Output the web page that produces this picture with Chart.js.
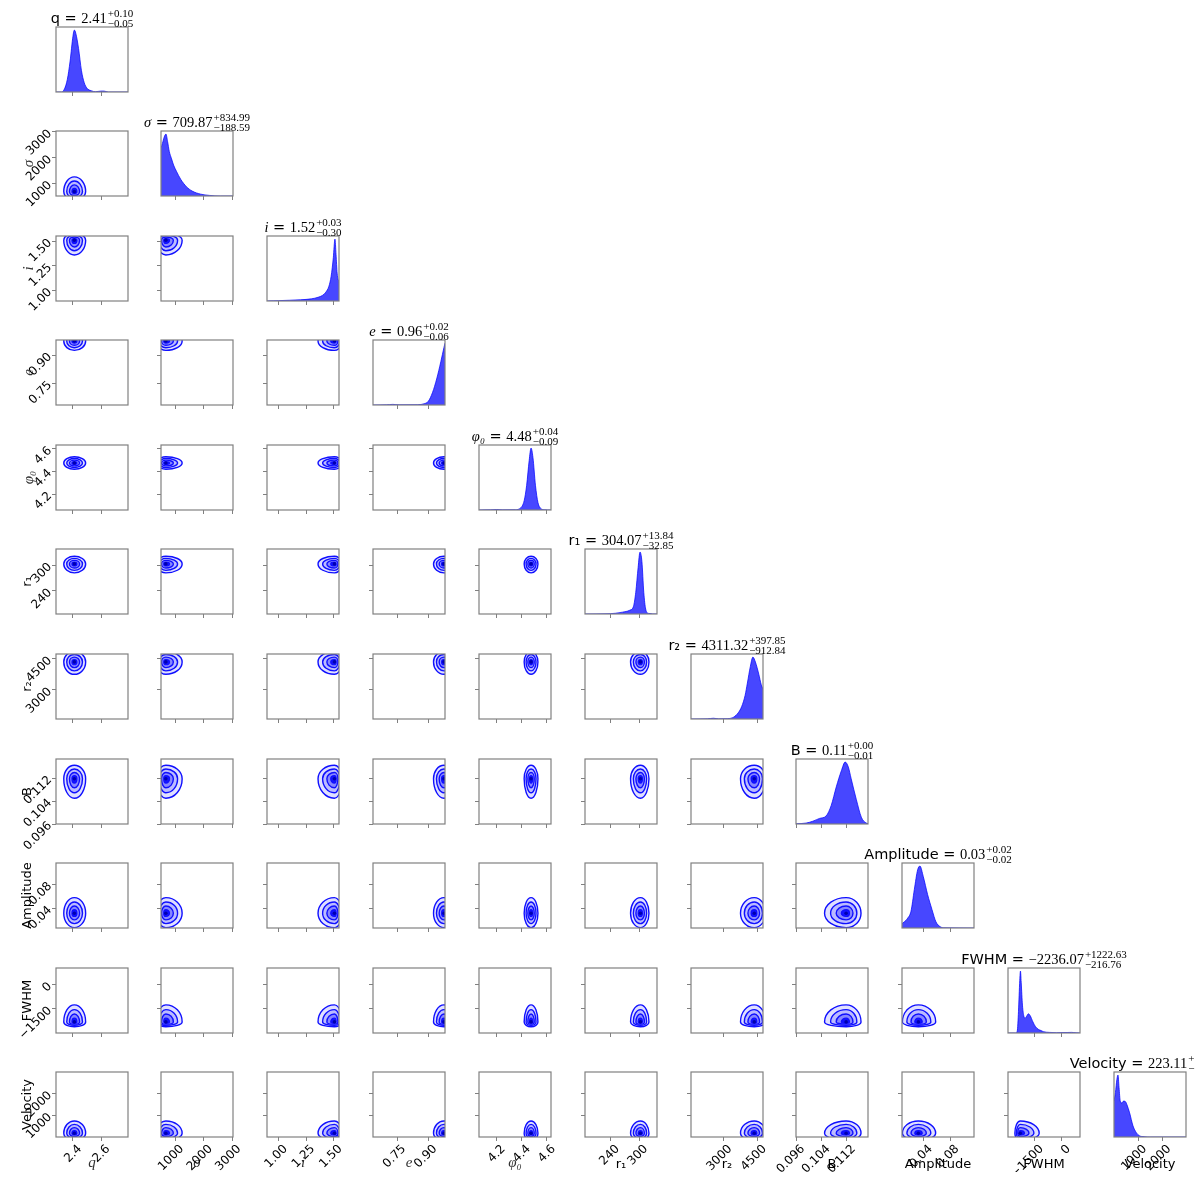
<!DOCTYPE html>
<html>
<head>
<meta charset="utf-8">
<title>Corner plot</title>
<script src="https://cdn.jsdelivr.net/npm/chart.js@4.4.0/dist/chart.umd.min.js"></script>
<style>
html, body { margin: 0; padding: 0; background: #fff; }
#grid { position: relative; width: 1200px; height: 1178px; overflow: hidden; }
#grid canvas { position: absolute; }
</style>
</head>
<body>
<div id="grid"></div>
<script>
// ---------- Parameters ----------
const paramNames = ['q', 'σ', 'i', 'e', 'φ₀', 'r₁', 'r₂', 'B', 'Amplitude', 'FWHM', 'Velocity'];
const titleIsMath = [false, true, true, true, true, false, false, false, false, false, false];
const labelIsMath = [true, true, true, true, true, false, false, false, false, false, false];
const medians = ['2.41', '709.87', '1.52', '0.96', '4.48', '304.07', '4311.32', '0.11', '0.03', '−2236.07', '223.11'];
const upperErr = ['+0.10', '+834.99', '+0.03', '+0.02', '+0.04', '+13.84', '+397.85', '+0.00', '+0.02', '+1222.63', '+'];
const lowerErr = ['−0.05', '−188.59', '−0.30', '−0.06', '−0.09', '−32.85', '−912.84', '−0.01', '−0.02', '−216.76', '−'];

// axis ranges
const paramMin = [2.28, 510, 0.893, 0.635, 4.06, 185.5, 1592, 0.096, 0.0074, -2983, 0];
const paramMax = [2.79, 3030, 1.552, 0.98, 4.634, 338, 4731, 0.1187, 0.1156, 1017, 2996];

// ticks
const tickValues = [
  [2.4, 2.6], [1000, 2000, 3000], [1.0, 1.25, 1.5], [0.75, 0.9], [4.2, 4.4, 4.6],
  [240, 300], [3000, 4500], [0.096, 0.104, 0.112], [0.04, 0.08], [-1500, 0], [1000, 2000]
];
const tickLabels = [
  ['2.4', '2.6'], ['1000', '2000', '3000'], ['1.00', '1.25', '1.50'], ['0.75', '0.90'], ['4.2', '4.4', '4.6'],
  ['240', '300'], ['3000', '4500'], ['0.096', '0.104', '0.112'], ['0.04', '0.08'], ['−1500', '0'], ['1000', '2000']
];

// ---------- Marginal densities (peak = 1) ----------
const qGrid = [2.28, 2.32, 2.34, 2.36, 2.38, 2.40, 2.41, 2.42, 2.44, 2.46, 2.48, 2.50, 2.53, 2.56, 2.60, 2.62, 2.65, 2.79];
const qDens = [0, 0, 0.05, 0.2, 0.5, 0.9, 1.0, 0.95, 0.7, 0.35, 0.15, 0.06, 0.02, 0.005, 0.015, 0.015, 0, 0];
const sigmaGrid = [510, 560, 620, 685, 740, 800, 880, 950, 1050, 1200, 1400, 1600, 1900, 2200, 2600, 3030];
const sigmaDens = [0.78, 0.85, 0.95, 1.0, 0.88, 0.72, 0.6, 0.5, 0.4, 0.27, 0.15, 0.08, 0.03, 0.01, 0, 0];
const iGrid = [0.893, 0.95, 1.0, 1.1, 1.2, 1.3, 1.36, 1.40, 1.43, 1.46, 1.48, 1.50, 1.515, 1.525, 1.535, 1.552];
const iDens = [0, 0.003, 0.006, 0.012, 0.02, 0.035, 0.06, 0.09, 0.14, 0.24, 0.4, 0.7, 1.0, 0.75, 0.45, 0.3];
const eGrid = [0.635, 0.70, 0.73, 0.76, 0.85, 0.88, 0.90, 0.92, 0.94, 0.96, 0.975, 0.98];
const eDens = [0, 0.003, 0.01, 0.003, 0.005, 0.02, 0.06, 0.2, 0.42, 0.7, 0.93, 1.0];
const phiGrid = [4.06, 4.15, 4.20, 4.25, 4.35, 4.39, 4.42, 4.44, 4.46, 4.475, 4.49, 4.51, 4.53, 4.55, 4.58, 4.634];
const phiDens = [0, 0.003, 0.008, 0.003, 0.005, 0.03, 0.15, 0.4, 0.8, 1.0, 0.85, 0.4, 0.12, 0.03, 0.005, 0];
const r1Grid = [185.5, 230, 250, 265, 280, 288, 293, 298, 302, 306, 310, 314, 320, 338];
const r1Dens = [0, 0.003, 0.012, 0.03, 0.06, 0.12, 0.35, 0.75, 1.0, 0.85, 0.35, 0.08, 0.01, 0];
const r2Grid = [1592, 2300, 2570, 2800, 3200, 3450, 3650, 3800, 3950, 4050, 4180, 4290, 4400, 4550, 4650, 4731];
const r2Dens = [0, 0.003, 0.012, 0.003, 0.006, 0.03, 0.1, 0.2, 0.38, 0.58, 0.85, 1.0, 0.92, 0.72, 0.56, 0.48];
const bGrid = [0.096, 0.0992, 0.1013, 0.1034, 0.1055, 0.1071, 0.1087, 0.1103, 0.1115, 0.1125, 0.1134, 0.115, 0.1166, 0.118, 0.1187];
const bDens = [0.003, 0.015, 0.045, 0.09, 0.13, 0.3, 0.6, 0.86, 1.0, 0.92, 0.73, 0.4, 0.11, 0.02, 0.005];
const ampGrid = [0.0074, 0.0109, 0.016, 0.0209, 0.0259, 0.0309, 0.0344, 0.0394, 0.0459, 0.0524, 0.0584, 0.065, 0.072, 0.1156];
const ampDens = [0.07, 0.1, 0.16, 0.27, 0.62, 0.94, 1.0, 0.83, 0.54, 0.3, 0.1, 0.02, 0.003, 0];
const fwhmGrid = [-2983, -2550, -2470, -2400, -2330, -2290, -2250, -2180, -2100, -2030, -1950, -1850, -1750, -1600, -1450, -1300, -1150, -1000, -700, -300, 300, 550, 800, 1017];
const fwhmDens = [0, 0, 0.03, 0.35, 0.85, 1.0, 0.82, 0.45, 0.27, 0.24, 0.27, 0.31, 0.28, 0.18, 0.1, 0.06, 0.04, 0.02, 0.01, 0.005, 0.008, 0.01, 0.003, 0];
const velGrid = [0, 60, 120, 166, 210, 260, 320, 400, 480, 540, 650, 790, 930, 1060, 1250, 1500, 2996];
const velDens = [0.58, 0.72, 0.93, 1.0, 0.8, 0.58, 0.55, 0.58, 0.57, 0.52, 0.39, 0.18, 0.07, 0.02, 0.005, 0, 0];

const marginalGrid = [qGrid, sigmaGrid, iGrid, eGrid, phiGrid, r1Grid, r2Grid, bGrid, ampGrid, fwhmGrid, velGrid];
const marginalDens = [qDens, sigmaDens, iDens, eDens, phiDens, r1Dens, r2Dens, bDens, ampDens, fwhmDens, velDens];

// ---------- 2D contours: mode and extent of the outer contour ----------
const contourMode = [2.41, 680, 1.51, 0.975, 4.475, 303, 4350, 0.1118, 0.032, -2300, 170];
const contourLow = [2.335, 350, 1.36, 0.925, 4.42, 282, 3750, 0.105, 0.008, -2600, -150];
const contourHigh = [2.49, 1250, 1.58, 1.02, 4.53, 321, 4850, 0.1165, 0.058, -1250, 740];
const contourLevels = [1, 0.72, 0.46, 0.22];
const contourFill = ['rgba(0,0,255,0.12)', 'rgba(0,0,255,0.17)', 'rgba(0,0,255,0.28)', 'rgba(0,0,255,0.85)'];

// ---------- Styling ----------
const blue = 'rgba(0,0,255,0.72)';
const lineBlue = 'rgb(15,15,255)';
const frameColor = '#808080';
const serif = '"Liberation Serif", "DejaVu Serif", serif';
const sans = '"DejaVu Sans", sans-serif';
// the last title runs off the page; its hidden error text is about this wide
const clippedErrWidth = 42;

Chart.defaults.font.family = sans;
Chart.defaults.color = '#000';

// panel geometry
const PAD_L = 60, PAD_T = 30, PAD_R = 110, PAD_B = 10;
const PW = 72, PH = 65, XAXIS_H = 35, YAXIS_W = 36;

function panelLeft(c) { return Math.round(55.5 + 105.85 * c); }
function panelTop(r) { return Math.round(26.7 + 104.55 * r); }

// ---------- Plugins ----------
function contourPlugin(px, py) {
  return {
    id: 'contours',
    beforeDatasetsDraw(chart) {
      const {ctx, chartArea: a, scales: {x, y}} = chart;
      ctx.save();
      ctx.beginPath();
      ctx.rect(a.left, a.top, a.right - a.left, a.bottom - a.top);
      ctx.clip();
      const mx = contourMode[px], my = contourMode[py];
      const cx = x.getPixelForValue(mx), cy = y.getPixelForValue(my);
      contourLevels.forEach((s, k) => {
        const rxL = cx - x.getPixelForValue(mx - s * (mx - contourLow[px]));
        const rxR = x.getPixelForValue(mx + s * (contourHigh[px] - mx)) - cx;
        const ryB = y.getPixelForValue(my - s * (my - contourLow[py])) - cy;
        const ryT = cy - y.getPixelForValue(my + s * (contourHigh[py] - my));
        ctx.beginPath();
        ctx.ellipse(cx, cy, rxR, ryB, 0, 0, Math.PI / 2);
        ctx.ellipse(cx, cy, rxL, ryB, 0, Math.PI / 2, Math.PI);
        ctx.ellipse(cx, cy, rxL, ryT, 0, Math.PI, 1.5 * Math.PI);
        ctx.ellipse(cx, cy, rxR, ryT, 0, 1.5 * Math.PI, 2 * Math.PI);
        ctx.closePath();
        ctx.fillStyle = contourFill[k];
        ctx.fill();
        ctx.strokeStyle = lineBlue;
        ctx.lineWidth = 1.4;
        ctx.stroke();
      });
      ctx.restore();
    }
  };
}

function framePlugin(diag, p) {
  return {
    id: 'frame',
    afterDatasetsDraw(chart) {
      const {ctx, chartArea: a} = chart;
      ctx.save();
      ctx.strokeStyle = frameColor;
      ctx.lineWidth = 1.2;
      ctx.strokeRect(a.left, a.top, a.right - a.left, a.bottom - a.top);
      ctx.restore();
    },
    afterDraw(chart) {
      if (!diag) return;
      // title "name = median^{+up}_{-lo}"
      const {ctx, chartArea: a} = chart;
      const mainSize = 14.5, smallSize = 11;
      const parts = [
        [paramNames[p], titleIsMath[p] ? `italic ${mainSize}px ${serif}` : `${mainSize}px ${sans}`],
        [' = ', `${mainSize}px ${sans}`],
        [medians[p], `${mainSize}px ${serif}`]
      ];
      const smallFont = `${smallSize}px ${serif}`;
      ctx.save();
      let total = 0;
      parts.forEach(pt => { ctx.font = pt[1]; pt.push(ctx.measureText(pt[0]).width); total += pt[2]; });
      ctx.font = smallFont;
      let errW = Math.max(ctx.measureText(upperErr[p]).width, ctx.measureText(lowerErr[p]).width);
      if (upperErr[p].length === 1) errW = clippedErrWidth;
      total += 1 + errW;
      let xx = (a.left + a.right) / 2 - total / 2;
      const base = a.top - 4.5;
      ctx.fillStyle = '#000';
      ctx.textBaseline = 'alphabetic';
      ctx.textAlign = 'left';
      parts.forEach(pt => { ctx.font = pt[1]; ctx.fillText(pt[0], xx, base); xx += pt[2]; });
      xx += 1;
      ctx.font = smallFont;
      ctx.fillText(upperErr[p], xx, base - 5.5);
      ctx.fillText(lowerErr[p], xx, base + 4.5);
      ctx.restore();
    }
  };
}

// ---------- Build panels ----------
const grid = document.getElementById('grid');

function makePanel(row, col) {
  const diag = row === col;
  const px = col, py = row;
  const bottomRow = row === 10;
  const leftCol = col === 0 && !diag;

  const cv = document.createElement('canvas');
  cv.width = PAD_L + PW + PAD_R;
  cv.height = PAD_T + PH + XAXIS_H + PAD_B;
  cv.style.left = (panelLeft(col) - PAD_L) + 'px';
  cv.style.top = (panelTop(row) - PAD_T) + 'px';
  grid.appendChild(cv);

  const labelFont = i => labelIsMath[i]
    ? {family: serif, style: 'italic', size: 15}
    : {family: sans, size: 13};

  const xScale = {
    type: 'linear',
    min: paramMin[px], max: paramMax[px],
    afterBuildTicks: s => { s.ticks = tickValues[px].map(v => ({value: v})); },
    afterFit: s => { s.height = XAXIS_H; },
    border: {display: false},
    grid: {display: true, drawOnChartArea: false, drawTicks: true, tickLength: 4, color: frameColor, lineWidth: 1},
    ticks: {
      display: bottomRow, autoSkip: false, minRotation: 45, maxRotation: 45,
      padding: 1, labelOffset: 7, font: {size: 12}, color: '#000',
      callback: (v, k) => tickLabels[px][k]
    },
    title: {display: bottomRow, text: paramNames[px], font: labelFont(px), color: labelIsMath[px] ? '#333' : '#000', padding: 0}
  };

  let yScale;
  if (diag) {
    yScale = {
      type: 'linear', min: 0, max: 1.05,
      afterFit: s => { s.width = YAXIS_W; },
      border: {display: false},
      grid: {display: false},
      ticks: {display: false}
    };
  } else {
    yScale = {
      type: 'linear',
      min: paramMin[py], max: paramMax[py],
      afterBuildTicks: s => { s.ticks = tickValues[py].map(v => ({value: v})); },
      afterFit: s => { s.width = YAXIS_W; },
      border: {display: false},
      grid: {display: true, drawOnChartArea: false, drawTicks: true, tickLength: 4, color: frameColor, lineWidth: 1},
      ticks: {
        display: leftCol, autoSkip: false, minRotation: 45, maxRotation: 45,
        padding: 2, font: {size: 12}, color: '#000',
        callback: (v, k) => tickLabels[py][k]
      },
      title: {display: leftCol, text: paramNames[py], font: labelFont(py), color: labelIsMath[py] ? '#333' : '#000', padding: 0}
    };
  }

  let datasets, plugins;
  if (diag) {
    const g = marginalGrid[px], d = marginalDens[px];
    datasets = [{
      data: g.map((x, k) => ({x: x, y: d[k]})),
      showLine: true, fill: 'origin', pointRadius: 0,
      borderColor: blue, backgroundColor: blue, borderWidth: 1,
      cubicInterpolationMode: 'monotone'
    }];
    plugins = [framePlugin(true, px)];
  } else {
    datasets = [{
      data: [{x: contourMode[px], y: contourMode[py]}],
      pointRadius: 1.8, pointBackgroundColor: '#0000b0', pointBorderWidth: 0
    }];
    plugins = [contourPlugin(px, py), framePlugin(false, px)];
  }

  new Chart(cv, {
    type: 'scatter',
    data: {datasets},
    options: {
      responsive: false, animation: false, devicePixelRatio: 1, events: [],
      layout: {padding: {left: PAD_L - YAXIS_W, top: PAD_T, right: PAD_R, bottom: PAD_B}},
      plugins: {legend: {display: false}, tooltip: {enabled: false}},
      scales: {x: xScale, y: yScale}
    },
    plugins
  });
}

for (let r = 0; r < 11; r++) {
  for (let c = 0; c <= r; c++) makePanel(r, c);
}
</script>
</body>
</html>
